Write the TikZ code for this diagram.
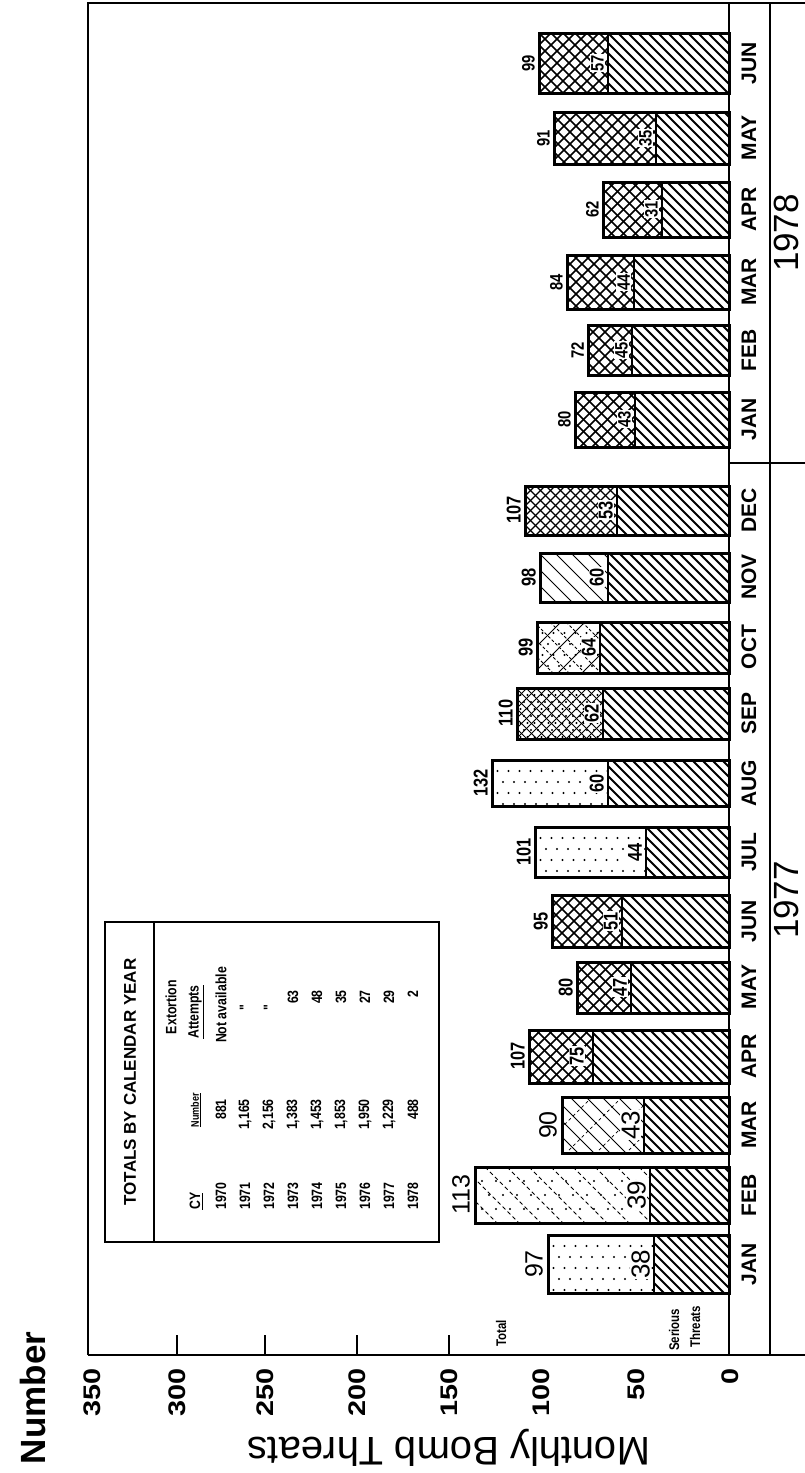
\documentclass[tikz,border=0pt]{standalone}
\usepackage{fontspec}
\setmainfont{Liberation Sans}
\newfontfamily\widef[FakeStretch=1.2]{Liberation Sans}
\newfontfamily\condf[FakeStretch=0.82]{Liberation Sans}
% hatch lines going down-right (x - y = c)
\newcommand\hatchdn[6]{\begin{scope}\clip (#1,#2) rectangle (#3,#4);
  \foreach \s in {0,#5,...,340}{\draw[#6] ({#1-(#4-#2)+\s},#2) -- ({#1+\s},#4);}
  \end{scope}}
% hatch lines going up-right (x + y = c)
\newcommand\hatchup[6]{\begin{scope}\clip (#1,#2) rectangle (#3,#4);
  \foreach \s in {0,#5,...,340}{\draw[#6] ({#1+\s},#2) -- ({#1+\s-(#4-#2)},#4);}
  \end{scope}}
\newcommand\dotsin[5]{\begin{scope}\clip (#1,#2) rectangle (#3,#4);
  \foreach \i in {0,#5,...,280}{\foreach \j in {0,#5,...,70}{\fill ({#1+\i+mod(round(\j/#5),2)*#5/2},{#2+\j}) circle (1.2pt);}}
  \end{scope}}
\newcommand\UPdots[4]{\dotsin{#1}{#2}{#3}{#4}{11}}
\newcommand\UPcross[4]{\hatchdn{#1}{#2}{#3}{#4}{12}{line width=1.6pt}\hatchup{#1}{#2}{#3}{#4}{12}{line width=1.6pt}}
\newcommand\UPfine[4]{\hatchdn{#1}{#2}{#3}{#4}{10}{line width=1.1pt}\hatchup{#1}{#2}{#3}{#4}{10}{line width=1.1pt}}
\newcommand\UPfeb[4]{\hatchdn{#1}{#2}{#3}{#4}{22}{line width=0.9pt,dash pattern=on 4pt off 3pt}\dotsin{#1}{#2}{#3}{#4}{14}}
\newcommand\UPmar[4]{\hatchdn{#1}{#2}{#3}{#4}{16}{line width=0.9pt}\hatchup{#1}{#2}{#3}{#4}{30}{line width=0.7pt,dash pattern=on 3pt off 3pt}}
\newcommand\UPsep[4]{\hatchdn{#1}{#2}{#3}{#4}{10}{line width=0.8pt}\hatchup{#1}{#2}{#3}{#4}{10}{line width=0.8pt}\dotsin{#1}{#2}{#3}{#4}{7}}
\newcommand\UPoct[4]{\hatchdn{#1}{#2}{#3}{#4}{16}{line width=0.8pt,dash pattern=on 3pt off 2pt}\hatchup{#1}{#2}{#3}{#4}{24}{line width=0.8pt}\dotsin{#1}{#2}{#3}{#4}{11}}
\newcommand\UPnov[4]{\hatchdn{#1}{#2}{#3}{#4}{16}{line width=0.9pt}}
% bar: y0 y1 top div upper-pattern
\newcommand\bbar[5]{%
  \hatchdn{#4}{#1}{729}{#2}{10}{line width=2pt}
  #5{#3}{#1}{#4}{#2}
  \draw[line width=3pt] (#3,#1) rectangle (729,#2);
  \draw[line width=2.6pt] (#4,#1) -- (#4,#2);}
\begin{document}
\begin{tikzpicture}[x=1pt,y=-1pt,
  frame/.style={line width=2.5pt},
  vlab/.style={rotate=90,anchor=east,inner sep=0pt,font=\widef\bfseries\fontsize{24}{24}\selectfont},
  mon/.style={rotate=90,inner sep=0pt,font=\bfseries\fontsize{21}{21}\selectfont},
  yr/.style={rotate=90,inner sep=0pt,font=\fontsize{35}{35}\selectfont},
  tR/.style={rotate=90,anchor=south,inner sep=1pt,font=\fontsize{25}{25}\selectfont},
  iR/.style={tR,fill=white,font=\fontsize{26}{26}\selectfont},
  tB/.style={rotate=90,anchor=south,inner sep=1pt,font=\condf\bfseries\fontsize{20}{20}\selectfont},
  iB/.style={tB,fill=white},
  tS/.style={rotate=90,anchor=south,inner sep=1pt,font=\condf\bfseries\fontsize{18}{18}\selectfont},
  iS/.style={tS,fill=white},
  tb/.style={rotate=90,inner sep=0pt,font=\condf\bfseries\fontsize{15}{15}\selectfont},
  small/.style={rotate=90,inner sep=0pt,font=\condf\bfseries\fontsize{14}{14}\selectfont}]
\useasboundingbox (0,0) rectangle (805,1473);
% frame
\draw[frame] (88,1355) -- (88,3) -- (805,3);
\draw[frame] (88,1355) -- (805,1355);
\draw[frame] (729,3) -- (729,1355);
\draw[frame] (770,3) -- (770,1355);
\draw[frame] (729,463) -- (805,463);
\foreach \x in {177,265,357,449}{\draw[line width=2pt] (\x,1355) -- (\x,1335);}
% value labels
\foreach \v/\x in {350/92,300/177,250/265,200/357,150/449,100/541,50/636,0/730}{
  \node[vlab] (v\v) at (\x,1368) {\v};}
\node[rotate=90,inner sep=0pt,font=\bfseries\fontsize{35}{35}\selectfont] (num) at (33,1398) {Number};
\node[rotate=180,inner sep=0pt,font=\fontsize{40}{40}\selectfont] (mbt) at (449,1448) {Monthly Bomb Threats};
\node[small,anchor=west] (tot) at (501,1347) {Total};
\node[small,anchor=west] (ser) at (674,1351) {Serious};
\node[small,anchor=west] (thr) at (695,1348) {Threats};
% bars 1977
\bbar{1235}{1293}{548}{654}{\UPdots}
\bbar{1167}{1223}{475}{650}{\UPfeb}
\bbar{1097}{1153}{562}{644}{\UPmar}
\bbar{1030}{1083}{529}{593}{\UPcross}
\bbar{962}{1013}{577}{631}{\UPcross}
\bbar{895}{947}{552}{622}{\UPcross}
\bbar{827}{877}{535}{646}{\UPdots}
\bbar{760}{806}{492}{608}{\UPdots}
\bbar{688}{739}{517}{603}{\UPsep}
\bbar{622}{673}{537}{600}{\UPoct}
\bbar{553}{602}{540}{608}{\UPnov}
\bbar{486}{535}{525}{617}{\UPfine}
% bars 1978
\bbar{392}{447}{575}{635}{\UPcross}
\bbar{325}{375}{588}{632}{\UPcross}
\bbar{255}{309}{567}{634}{\UPcross}
\bbar{182}{237}{603}{662}{\UPcross}
\bbar{112}{164}{554}{656}{\UPcross}
\bbar{33}{93}{539}{608}{\UPcross}
% totals and serious labels 1977
\node[tR] (a1) at (544,1264) {97};   \node[iR] (b1) at (651,1264) {38};
\node[tR] (a2) at (471,1195) {113};  \node[iR] (b2) at (647,1195) {39};
\node[tR] (a3) at (558,1125) {90};   \node[iR] (b3) at (641,1125) {43};
\node[tB] (a4) at (526,1056) {107};  \node[iB] (b4) at (585,1056) {75};
\node[tB] (a5) at (574,987) {80};    \node[iB] (b5) at (628,987) {47};
\node[tB] (a6) at (549,921) {95};    \node[iB] (b6) at (619,921) {51};
\node[tB] (a7) at (532,852) {101};   \node[iB] (b7) at (643,852) {44};
\node[tB] (a8) at (489,783) {132};   \node[iB] (b8) at (605,783) {60};
\node[tB] (a9) at (514,713) {110};   \node[iB] (b9) at (600,713) {62};
\node[tB] (a10) at (534,647) {99};   \node[iB] (b10) at (597,647) {64};
\node[tB] (a11) at (537,577) {98};   \node[iB] (b11) at (605,577) {60};
\node[tB] (a12) at (522,510) {107};  \node[iB] (b12) at (614,510) {53};
% 1978
\node[tS] (c1) at (572,419) {80};  \node[iS] (d1) at (632,419) {43};
\node[tS] (c2) at (585,350) {72};  \node[iS] (d2) at (629,350) {45};
\node[tS] (c3) at (564,282) {84};  \node[iS] (d3) at (631,282) {44};
\node[tS] (c4) at (600,209) {62};  \node[iS] (d4) at (659,209) {31};
\node[tS] (c5) at (551,138) {91};  \node[iS] (d5) at (653,138) {35};
\node[tS] (c6) at (536,63) {99};   \node[iS] (d6) at (605,63) {57};
% month labels
\foreach \m/\y [count=\k] in {JAN/1264,FEB/1195,MAR/1125,APR/1056,MAY/987,JUN/921,JUL/852,AUG/783,SEP/713,OCT/647,NOV/577,DEC/510}{
  \node[mon] (m\k) at (749,\y) {\m};}
\foreach \m/\y [count=\k] in {JAN/419,FEB/350,MAR/282,APR/209,MAY/138,JUN/63}{
  \node[mon] (n\k) at (749,\y) {\m};}
\node[yr] (y77) at (786,900) {1977};
\node[yr] (y78) at (786,233) {1978};
% inset table
\draw[line width=2.2pt] (105,922) rectangle (439,1242);
\draw[line width=2pt] (154,922) -- (154,1242);
\node[rotate=90,inner sep=0pt,font=\bfseries\fontsize{17}{17}\selectfont] (ttl) at (130,1082) {TOTALS BY CALENDAR YEAR};
\node[tb,anchor=west] (hcy) at (196,1210) {\underline{CY}};
\node[tb,font=\condf\bfseries\fontsize{11}{11}\selectfont] (hnum) at (196,1110) {\underline{Number}};
\node[tb] (hext) at (171,1007) {Extortion};
\node[tb] (hatt) at (196,1012) {\underline{Attempts}};
\node[tb] (na) at (221,1005) {Not available};
\node[tb] (dit1) at (245,1008) {"};
\node[tb] (dit2) at (269,1008) {"};
\foreach \yy/\nn/\ee [count=\k] in {1970/881/,1971/{1,165}/,1972/{2,156}/,1973/{1,383}/63,1974/{1,453}/48,1975/{1,853}/35,1976/{1,950}/27,1977/{1,229}/29,1978/488/2}{
  \node[tb,anchor=west] (ry\k) at ({197+24*\k},1210) {\yy};
  \node[tb,anchor=east] (rn\k) at ({197+24*\k},1099) {\nn};
  \node[tb,anchor=east] (re\k) at ({197+24*\k},990) {\ee};}
\end{tikzpicture}
\end{document}
